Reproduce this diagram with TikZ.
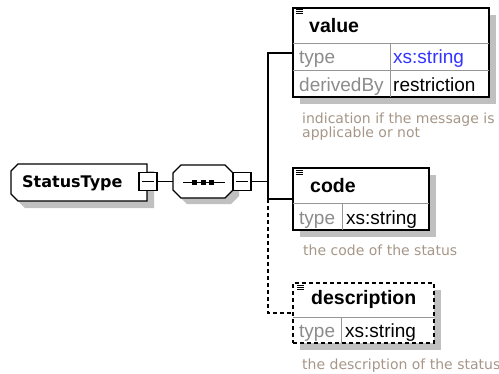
\documentclass[tikz,border=0pt]{standalone}
\usepackage{fontspec}
\setmainfont{Liberation Sans}
\newfontfamily\dvs{DejaVu Sans}
\usetikzlibrary{shadows}
\definecolor{shadowgray}{RGB}{192,192,192}
\definecolor{sepgray}{RGB}{150,150,150}
\definecolor{labelgray}{RGB}{140,140,140}
\definecolor{docgray}{RGB}{165,150,135}
\definecolor{typeblue}{RGB}{51,51,255}
\tikzset{
  elbox/.style={draw=black, line width=1.4pt, fill=white, inner sep=0pt,
    drop shadow={shadow xshift=7pt, shadow yshift=-7pt, fill=shadowgray, opacity=1}},
  sepline/.style={draw=sepgray, line width=0.9pt},
  conn/.style={line width=1.2pt},
  dashline/.style={dash pattern=on 4pt off 3pt},
  elname/.style={font=\fontsize{19.5}{22}\selectfont\bfseries, anchor=base west, inner sep=0pt},
  cell/.style={font=\fontsize{19}{22}\selectfont, anchor=base west, inner sep=0pt},
  lbl/.style={cell, text=labelgray},
  doc/.style={font=\dvs\fontsize{14}{14}\selectfont, text=docgray, anchor=base west, inner sep=0pt},
  minusbox/.style={draw=black, line width=1.1pt, fill=white, minimum size=18pt, inner sep=0pt,
    path picture={\draw[line width=1pt] ([xshift=3pt]path picture bounding box.west) -- ([xshift=-3pt]path picture bounding box.east);}},
  anchorbox/.style={inner sep=0pt, draw=none}
}
\begin{document}
\begin{tikzpicture}[x=1pt,y=-1pt]
\useasboundingbox (0,0) rectangle (499,373);

% ---- StatusType
\fill[shadowgray] (154,171) -- (25,171) -- (18,178) -- (18,201) -- (25,208) -- (154,208) -- cycle;
\draw[line width=1.4pt, fill=white] (147,164) -- (18,164) -- (11,171) -- (11,194) -- (18,201) -- (147,201) -- cycle;
\node[anchorbox, minimum width=136pt, minimum height=37pt] (st) at (79,182.5) {};
\node[anchor=base west, inner sep=0pt, font=\dvs\fontsize{16}{18}\selectfont\bfseries] (sttext) at (22,187.5) {StatusType};
\node[minusbox] (m1) at (148,181.5) {};

% ---- sequence
\fill[shadowgray] (187,171) -- (231,171) -- (239,179) -- (239,196) -- (231,204) -- (187,204) -- (179,196) -- (179,179) -- cycle;
\draw[line width=1.4pt, fill=white] (181,165) -- (225,165) -- (233,173) -- (233,190) -- (225,198) -- (181,198) -- (173,190) -- (173,173) -- cycle;
\node[anchorbox, minimum width=60pt, minimum height=33pt] (seq) at (203,181.5) {};
\draw[line width=1pt] (183,182.5) -- (225,182.5);
\foreach \sx in {194,203,211} \fill (\sx-2.5,180) rectangle (\sx+2.5,185);
\node[minusbox] (m2) at (242,181.5) {};
\draw[conn] (m1.east) -- (seq.west |- m1.east);

% ---- element boxes
\node[elbox, minimum width=196pt, minimum height=89pt] (value) at (391,52.5) {};
\node[elbox, minimum width=136pt, minimum height=62pt] (code) at (361,199) {};
\node[elbox, dashline, minimum width=141pt, minimum height=60pt] (desc) at (363.5,313) {};

% separators
\draw[sepline] (293,43) -- (489,43);
\draw[sepline] (293,70) -- (489,70);
\draw[sepline] (390,43) -- (390,97);
\draw[sepline] (293,203) -- (429,203);
\draw[sepline] (342,203) -- (342,230);
\draw[sepline] (293,317) -- (434,317);
\draw[sepline] (341,317) -- (341,343);

% icons
\foreach \iy in {0,2,4} {
  \draw[line width=0.9pt] (296,9.5+\iy) -- (303,9.5+\iy);
  \draw[line width=0.9pt] (296,170.5+\iy) -- (303,170.5+\iy);
  \draw[line width=0.9pt] (297,285.5+\iy) -- (304,285.5+\iy);
}

% ---- connectors
\coordinate (bus) at (268,181.5);
\coordinate (b1) at (268,53);
\coordinate (b2) at (268,199);
\coordinate (b3) at (268,313);
\draw[conn] (m2.east) -- (bus);
\draw[conn] (b1 -| value.west) -- (b1) -- (b2) -- (b2 -| code.west);
\draw[conn, dashline] (b2) -- (b3) -- (b3 -| desc.west);

% ---- texts
\node[elname] (tvalue) at (309,32) {value};
\node[lbl] (tv1) at (299,63.5) {type};
\node[cell, text=typeblue] (tv2) at (393,63.5) {xs:string};
\node[lbl] (tv3) at (299,91.5) {derivedBy};
\node[cell] (tv4) at (393,91.5) {restriction};
\node[doc] (dv1) at (302,123) {indication if the message is};
\node[doc] (dv2) at (302,137) {applicable or not};

\node[elname] (tcode) at (310,192) {code};
\node[lbl] (tc1) at (299,224) {type};
\node[cell] (tc2) at (346,224) {xs:string};
\node[doc] (dc1) at (303,255) {the code of the status};

\node[elname] (tdesc) at (311,304) {description};
\node[lbl] (td1) at (299,337.5) {type};
\node[cell] (td2) at (345,337.5) {xs:string};
\node[doc] (dd1) at (302,369) {the description of the status};
\end{tikzpicture}
\end{document}
